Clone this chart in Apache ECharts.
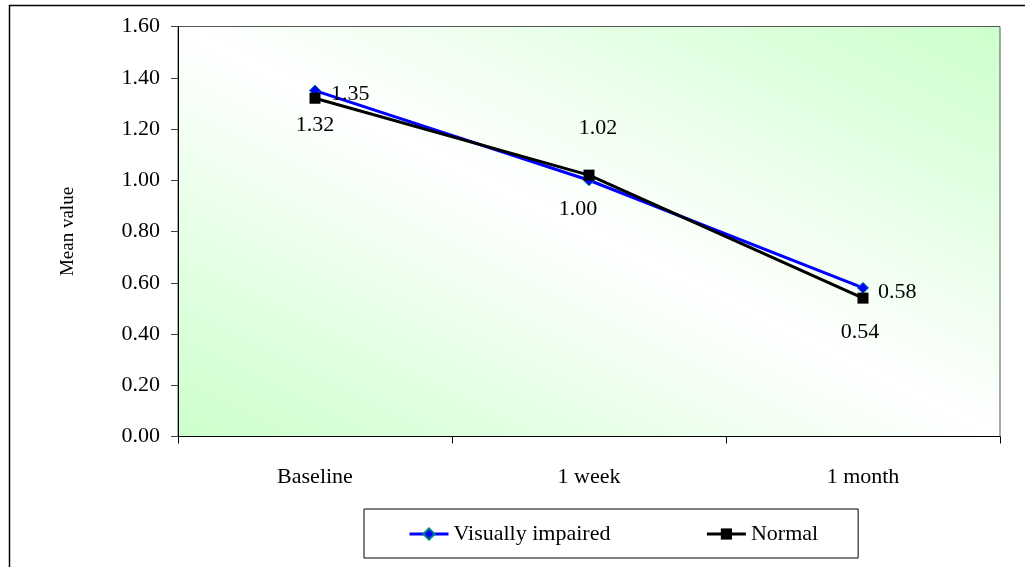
<!DOCTYPE html>
<html>
<head>
<meta charset="utf-8">
<script src="https://cdn.jsdelivr.net/npm/echarts@6/dist/echarts.min.js"></script>
<style>
  html, body { margin: 0; padding: 0; background: #ffffff; }
  #chart { width: 1025px; height: 567px; }
</style>
</head>
<body>
<div id="chart"></div>
<script>
// Time points and mean values per group
const categories = ['Baseline', '1 week', '1 month'];
const visuallyImpaired = [1.35, 1.00, 0.58];
const normal = [1.32, 1.02, 0.54];
const yTicks = { min: 0, max: 1.6, interval: 0.2 };

const FONT = 'Liberation Serif, Times New Roman, serif';
const FS = 22;

// Label placement per point (group -> point index)
const viLabels = [
  { position: 'right', distance: 10, offset: [0, 4] },
  { position: 'bottom', distance: 12, offset: [-11, 0] },
  { position: 'right', distance: 9, offset: [0, 4] }
];
const normalLabels = [
  { position: 'bottom', distance: 10, offset: [0, 0] },
  { position: 'top', distance: 30, offset: [9, 0] },
  { position: 'bottom', distance: 18, offset: [-3, 0] }
];

const grid = { left: 178, top: 26.5, right: 25, bottom: 130.5 };
const gx0 = grid.left, gy0 = grid.top;
const gx1 = 1025 - grid.right, gy1 = 567 - grid.bottom;
const w = gx1 - gx0, h = gy1 - gy0;
// diagonal gradient: green corners (bottom-left, top-right), white along the other diagonal
const k = 2 * w * h / (w * w + h * h);
const bg = new echarts.graphic.LinearGradient(
  gx0, gy1, gx0 + h * k, gy1 - w * k,
  [
    { offset: 0, color: '#ccffcc' },
    { offset: 0.5, color: '#ffffff' },
    { offset: 1, color: '#ccffcc' }
  ],
  true
);

function buildData(values, labels) {
  return values.map((v, i) => ({
    value: v,
    label: Object.assign({
      show: true,
      formatter: (p) => p.value.toFixed(2),
      fontFamily: FONT,
      fontSize: FS,
      color: '#000'
    }, labels[i])
  }));
}

const chart = echarts.init(document.getElementById('chart'), null, { renderer: 'canvas' });
chart.setOption({
  animation: false,
  backgroundColor: '#ffffff',
  textStyle: { fontFamily: FONT },
  graphic: [{
    type: 'rect',
    shape: { x: 9.5, y: 5.5, width: 1100, height: 700 },
    style: { fill: 'none', stroke: '#000', lineWidth: 1.5 },
    silent: true
  }],
  grid: {
    left: grid.left, top: grid.top, right: grid.right, bottom: grid.bottom,
    show: true,
    backgroundColor: bg,
    borderColor: '#555',
    borderWidth: 1
  },
  legend: {
    left: 364,
    top: 509,
    orient: 'horizontal',
    borderColor: '#000',
    borderWidth: 1,
    padding: [14, 40, 13, 44],
    itemWidth: 39,
    itemHeight: 14,
    itemGap: 95,
    lineStyle: { width: 3 },
    textStyle: { fontFamily: FONT, fontSize: FS, color: '#000' },
    data: ['Visually impaired', 'Normal']
  },
  xAxis: {
    type: 'category',
    data: categories,
    boundaryGap: true,
    axisLine: { show: true, lineStyle: { color: '#000', width: 1 } },
    axisTick: { show: true, length: 7, alignWithLabel: false, lineStyle: { color: '#000' } },
    axisLabel: { margin: 30, fontFamily: FONT, fontSize: FS, color: '#000' },
    splitLine: { show: false }
  },
  yAxis: {
    type: 'value',
    min: yTicks.min,
    max: yTicks.max,
    interval: yTicks.interval,
    name: 'Mean value',
    nameLocation: 'middle',
    nameGap: 100,
    nameRotate: 90,
    nameTextStyle: { fontFamily: FONT, fontSize: 19, color: '#000' },
    axisLine: { show: true, lineStyle: { color: '#000', width: 1 } },
    axisTick: { show: true, length: 7, lineStyle: { color: '#444' } },
    axisLabel: { margin: 18, fontFamily: FONT, fontSize: FS, color: '#000',
      formatter: (v) => v.toFixed(2) },
    splitLine: { show: false }
  },
  series: [
    {
      name: 'Visually impaired',
      type: 'line',
      data: buildData(visuallyImpaired, viLabels),
      symbol: 'diamond',
      symbolSize: 11,
      lineStyle: { color: '#0000ff', width: 3 },
      itemStyle: { color: '#0000ff', borderColor: '#008080', borderWidth: 1 },
      z: 2
    },
    {
      name: 'Normal',
      type: 'line',
      data: buildData(normal, normalLabels),
      symbol: 'rect',
      symbolSize: 11,
      lineStyle: { color: '#000000', width: 3 },
      itemStyle: { color: '#000000' },
      z: 3
    }
  ]
});
</script>
</body>
</html>
